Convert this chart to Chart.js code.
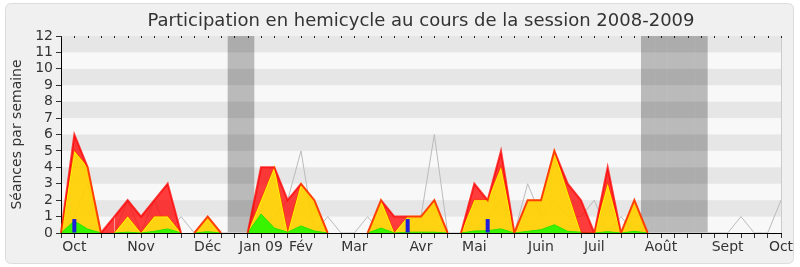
<!DOCTYPE html>
<html>
<head>
<meta charset="utf-8">
<script src="https://cdn.jsdelivr.net/npm/chart.js@4/dist/chart.umd.min.js"></script>
<style>
html,body{margin:0;padding:0;background:#fff;}
canvas{display:block;}
</style>
</head>
<body>
<canvas id="c" width="800" height="267"></canvas>
<script>
const chartTitle = 'Participation en hemicycle au cours de la session 2008-2009';
const yTitle = 'Séances par semaine';
const tickLabels = ['', 'Oct', '', '', '', '', 'Nov', '', '', '', '', 'Déc', '', '', '', 'Jan 09', '', '', 'Fév', '', '', '', 'Mar', '', '', '', '', 'Avr', '', '', '', 'Mai', '', '', '', '', 'Juin', '', '', '', 'Juil', '', '', '', '', 'Août', '', '', '', '', 'Sept', '', '', '', 'Oct'];
const presence = [0,6,4,0,1,2,1,2,3,0, 0,1,0,0,0,4,4,2,3,2, 0,0,0,0,2,1,1,1,2,0, 0,3,2,5,0,2,2,5,3,2, 0,4,0,2,0,0,0,0,0,0, 0,0,0,0,0];
const participation = [0,5,4,0,0,1,0,1,1,0, 0,1,0,0,0,2,4,0,3,2, 0,0,0,0,2,0,1,1,2,0, 0,2,2,4,0,2,2,5,2.5,0, 0,3,0,2,0,0,0,0,0,0, 0,0,0,0,0];
const interventions = [0,0.73,0.24,0,0,0.05,0,0.1,0.25,0, 0,0.08,0,0,0,1.16,0.3,0.05,0.43,0.12, 0,0,0,0,0.3,0,0.05,0.05,0.05,0, 0,0.12,0.14,0.25,0,0.1,0.2,0.5,0.1,0.05, 0,0.08,0,0.1,0,0,0,0,0,0, 0,0,0,0,0];
const mediane = [0,1,3,0,0,2,0,2,0,1, 0,0,0,0,0,0,1,2,5,0, 1,0,0,1,0,0,0,1,6,0, 0,0,1,2,0,3,1,2,1,1, 2,0,1,0,0,0,0,0,0,0, 0,1,0,0,2];
const questions = [null,0.85,null,null,null,null,null,null,null,null, null,null,null,null,null,null,null,null,null,null, null,null,null,null,null,null,0.85,null,null,null, null,null,0.85,null,null,null,null,null,null,null, null,null,null,null,null,null,null,null,null,null, null,null,null,null,null];
const vacances = [null,null,null,null,null,null,null,null,null,null, null,null,null,12,12,null,null,null,null,null, null,null,null,null,null,null,null,null,null,null, null,null,null,null,null,null,null,null,null,null, null,null,null,null,12,12,12,12,12,null, null,null,null,null,null];

const FONT = 'DejaVu Sans';

const hideFlat = (color) => (c) => (c.p0.parsed.y === 0 && c.p1.parsed.y === 0) ? 'rgba(0,0,0,0)' : color;

const decor = {
  id: 'decor',
  beforeDraw(chart) {
    const ctx = chart.ctx;
    ctx.save();
    ctx.fillStyle = '#ffffff';
    ctx.fillRect(0, 0, chart.width, chart.height);
    const x0 = 5.5, y0 = 3.5, w = chart.width - 12, h = chart.height - 7, r = 6;
    ctx.beginPath();
    ctx.moveTo(x0 + r, y0);
    ctx.lineTo(x0 + w - r, y0);
    ctx.quadraticCurveTo(x0 + w, y0, x0 + w, y0 + r);
    ctx.lineTo(x0 + w, y0 + h - r);
    ctx.quadraticCurveTo(x0 + w, y0 + h, x0 + w - r, y0 + h);
    ctx.lineTo(x0 + r, y0 + h);
    ctx.quadraticCurveTo(x0, y0 + h, x0, y0 + h - r);
    ctx.lineTo(x0, y0 + r);
    ctx.quadraticCurveTo(x0, y0, x0 + r, y0);
    ctx.closePath();
    ctx.fillStyle = '#f0f0f0';
    ctx.fill();
    ctx.strokeStyle = '#dcdcdc';
    ctx.lineWidth = 1;
    ctx.stroke();
    const a = chart.chartArea;
    ctx.fillStyle = '#f8f8f8';
    ctx.fillRect(a.left, a.top, a.right - a.left, a.bottom - a.top);
    const y = chart.scales.y;
    ctx.fillStyle = '#e6e6e6';
    for (let v = 1; v < 12; v += 2) {
      const pt = y.getPixelForValue(v + 1), pb = y.getPixelForValue(v);
      ctx.fillRect(a.left, pt, a.right - a.left, pb - pt);
    }
    ctx.fillStyle = '#333333';
    ctx.font = '18px "' + FONT + '"';
    ctx.textAlign = 'center';
    ctx.textBaseline = 'alphabetic';
    ctx.fillText(chartTitle, (a.left + a.right) / 2, 26);
    ctx.restore();
  },
  afterDatasetsDraw(chart) {
    const ctx = chart.ctx;
    const a = chart.chartArea;
    const x = chart.scales.x;
    ctx.save();
    ctx.strokeStyle = '#cccccc';
    ctx.lineWidth = 1;
    ctx.beginPath();
    ctx.moveTo(Math.round(a.right) + 0.5, a.top);
    ctx.lineTo(Math.round(a.right) + 0.5, a.bottom);
    ctx.stroke();
    ctx.fillStyle = '#222222';
    for (let i = 0; i < tickLabels.length; i++) {
      const px = Math.round(x.getPixelForValue(i));
      ctx.fillRect(px, a.top, 1, 2);
    }
    ctx.restore();
  }
};

new Chart(document.getElementById('c'), {
  type: 'line',
  data: {
    labels: tickLabels,
    datasets: [
      { type: 'line', label: 'Présence', data: presence, fill: 1,
        backgroundColor: 'rgba(255,0,0,0.76)', borderColor: 'rgba(255,0,0,0.75)', borderWidth: 2,
        segment: { borderColor: hideFlat('rgba(255,0,0,0.75)') },
        pointRadius: 0, tension: 0, order: 6 },
      { type: 'line', label: 'Participation', data: participation, fill: 'origin',
        backgroundColor: 'rgba(255,208,0,0.93)', borderColor: '#ffff00', borderWidth: 1.5,
        segment: { borderColor: hideFlat('#ffff00') },
        pointRadius: 0, tension: 0, order: 8 },
      { type: 'line', label: 'Interventions', data: interventions, fill: 'origin',
        backgroundColor: 'rgba(45,245,0,0.95)', borderColor: '#2ee000', borderWidth: 1,
        segment: { borderColor: hideFlat('#2ee000') },
        pointRadius: 0, tension: 0, order: 7 },
      { type: 'line', label: 'Médiane', data: mediane, fill: false,
        borderColor: '#bbbbbb', borderWidth: 1, pointRadius: 0, tension: 0, order: 9 },
      { type: 'bar', label: 'Questions orales', data: questions, backgroundColor: '#1e1edc',
        barPercentage: 0.3, categoryPercentage: 1, grouped: false, borderWidth: 0, inflateAmount: 0, order: 1 },
      { type: 'bar', label: 'Vacances', data: vacances, backgroundColor: 'rgba(0,0,0,0.25)',
        barPercentage: 1, categoryPercentage: 1, grouped: false, borderWidth: 0, inflateAmount: 0, order: 10 }
    ]
  },
  options: {
    responsive: false,
    animation: false,
    layout: { padding: { left: 0, right: 19, top: 36, bottom: 0 } },
    plugins: { legend: { display: false }, title: { display: false }, tooltip: { enabled: false } },
    scales: {
      x: {
        type: 'category',
        offset: false,
        z: 1,
        grid: { display: true, drawOnChartArea: false, drawTicks: true, tickLength: 5, color: '#333333', offset: false },
        border: { display: true, color: '#000000', width: 1 },
        ticks: { autoSkip: false, maxRotation: 0, minRotation: 0, padding: 1, color: '#333333',
                 font: { family: FONT, size: 14 } },
        afterFit(s) { s.height = 34; }
      },
      y: {
        min: 0, max: 12,
        grid: { display: true, drawOnChartArea: false, drawTicks: true, tickLength: 5, color: '#333333' },
        border: { display: true, color: '#000000', width: 1 },
        ticks: { stepSize: 1, autoSkip: false, padding: 3, color: '#333333', font: { family: FONT, size: 14 } },
        title: { display: true, text: yTitle, color: '#333333', font: { family: FONT, size: 14 }, padding: { top: 9, bottom: 0 } },
        afterFit(s) { s.width = 61; }
      }
    }
  },
  plugins: [decor]
});
</script>
</body>
</html>
